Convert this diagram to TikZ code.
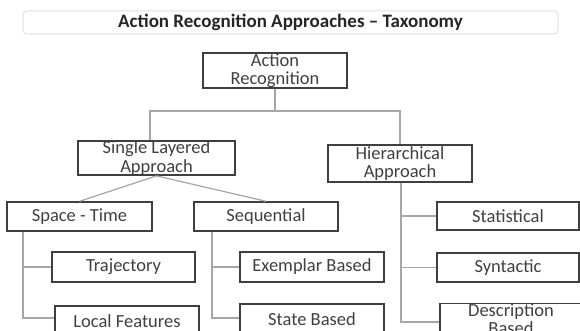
\documentclass[tikz,border=0pt]{standalone}
\usepackage{fontspec}
\setmainfont{Carlito}
\usetikzlibrary{calc}
\definecolor{boxline}{HTML}{3F3F3F}
\definecolor{boxtext}{HTML}{404040}
\definecolor{connline}{HTML}{A6A6A6}
\definecolor{titleline}{HTML}{E0E0E0}
\definecolor{titletext}{HTML}{262626}
\tikzset{
  box/.style={draw=boxline, line width=1.4pt, fill=white, inner sep=0pt,
    align=center, text=boxtext, font=\fontsize{18.5}{18.5}\selectfont},
  conn/.style={draw=connline, line width=1.2pt},
  titlebox/.style={draw=titleline, line width=1pt, rounded corners=4pt, fill=white,
    inner sep=0pt, text=titletext, font=\fontsize{19}{20}\selectfont\bfseries}
}
\begin{document}
\begin{tikzpicture}[x=1pt,y=-1pt]
\useasboundingbox (0,0) rectangle (580,331);
\clip (0,0) rectangle (580,331);
\fill[white] (0,0) rectangle (580,331);
% title
\node[titlebox, minimum width=535pt, minimum height=23pt] (title) at (290.5,22.5) {Action Recognition Approaches – Taxonomy};
% boxes
\node[box, minimum width=144pt, minimum height=35pt] (AR) at (275,70.5) {Action\\Recognition};
\node[box, minimum width=157pt, minimum height=32pt] (SLA) at (156.5,158) {Single Layered\\Approach};
\node[box, minimum width=144pt, minimum height=37pt] (HA) at (400,163.5) {Hierarchical\\Approach};
\node[box, minimum width=145pt, minimum height=29pt] (ST) at (79.5,216.5) {Space - Time};
\node[box, minimum width=144pt, minimum height=29pt] (SEQ) at (266,216.5) {Sequential};
\node[box, minimum width=143pt, minimum height=30pt] (TRAJ) at (123.5,267) {Trajectory};
\node[box, minimum width=144pt, minimum height=30pt] (LF) at (127,321) {Local Features};
\node[box, minimum width=144pt, minimum height=30pt] (EX) at (312,267) {Exemplar Based};
\node[box, minimum width=144pt, minimum height=30pt] (SB) at (312,319) {State Based};
\node[box, minimum width=142pt, minimum height=28pt] (DB) at (511,319) {Description\\Based};
\node[box, minimum width=142pt, minimum height=28pt] (STAT) at (508,216) {Statistical};
\node[box, minimum width=142pt, minimum height=29pt] (SYN) at (508,267.5) {Syntactic};
% bus coordinates
\coordinate (busL) at (150,111);
\coordinate (busR) at (400,111);
\coordinate (stb) at (23,318);
\coordinate (seqb) at (212,318);
\coordinate (hab) at (401,322);
% connectors
\draw[conn] (AR.south) -- (AR.south |- busL);
\draw[conn] (SLA.north -| busL) -- (busL) -- (busR) -- (HA.north -| busR);
\draw[conn] (SLA.south) -- (ST.north);
\draw[conn] (SLA.south) -- (SEQ.north);
\draw[conn] (ST.south -| stb) -- (stb) -- (LF.west |- stb);
\draw[conn] (TRAJ.west -| stb) -- (TRAJ.west);
\draw[conn] (SEQ.south -| seqb) -- (seqb) -- (SB.west |- seqb);
\draw[conn] (EX.west -| seqb) -- (EX.west);
\draw[conn] (HA.south -| hab) -- (hab) -- (DB.west |- hab);
\draw[conn] (STAT.west -| hab) -- (STAT.west);
\draw[conn] (SYN.west -| hab) -- (SYN.west);
\end{tikzpicture}
\end{document}
